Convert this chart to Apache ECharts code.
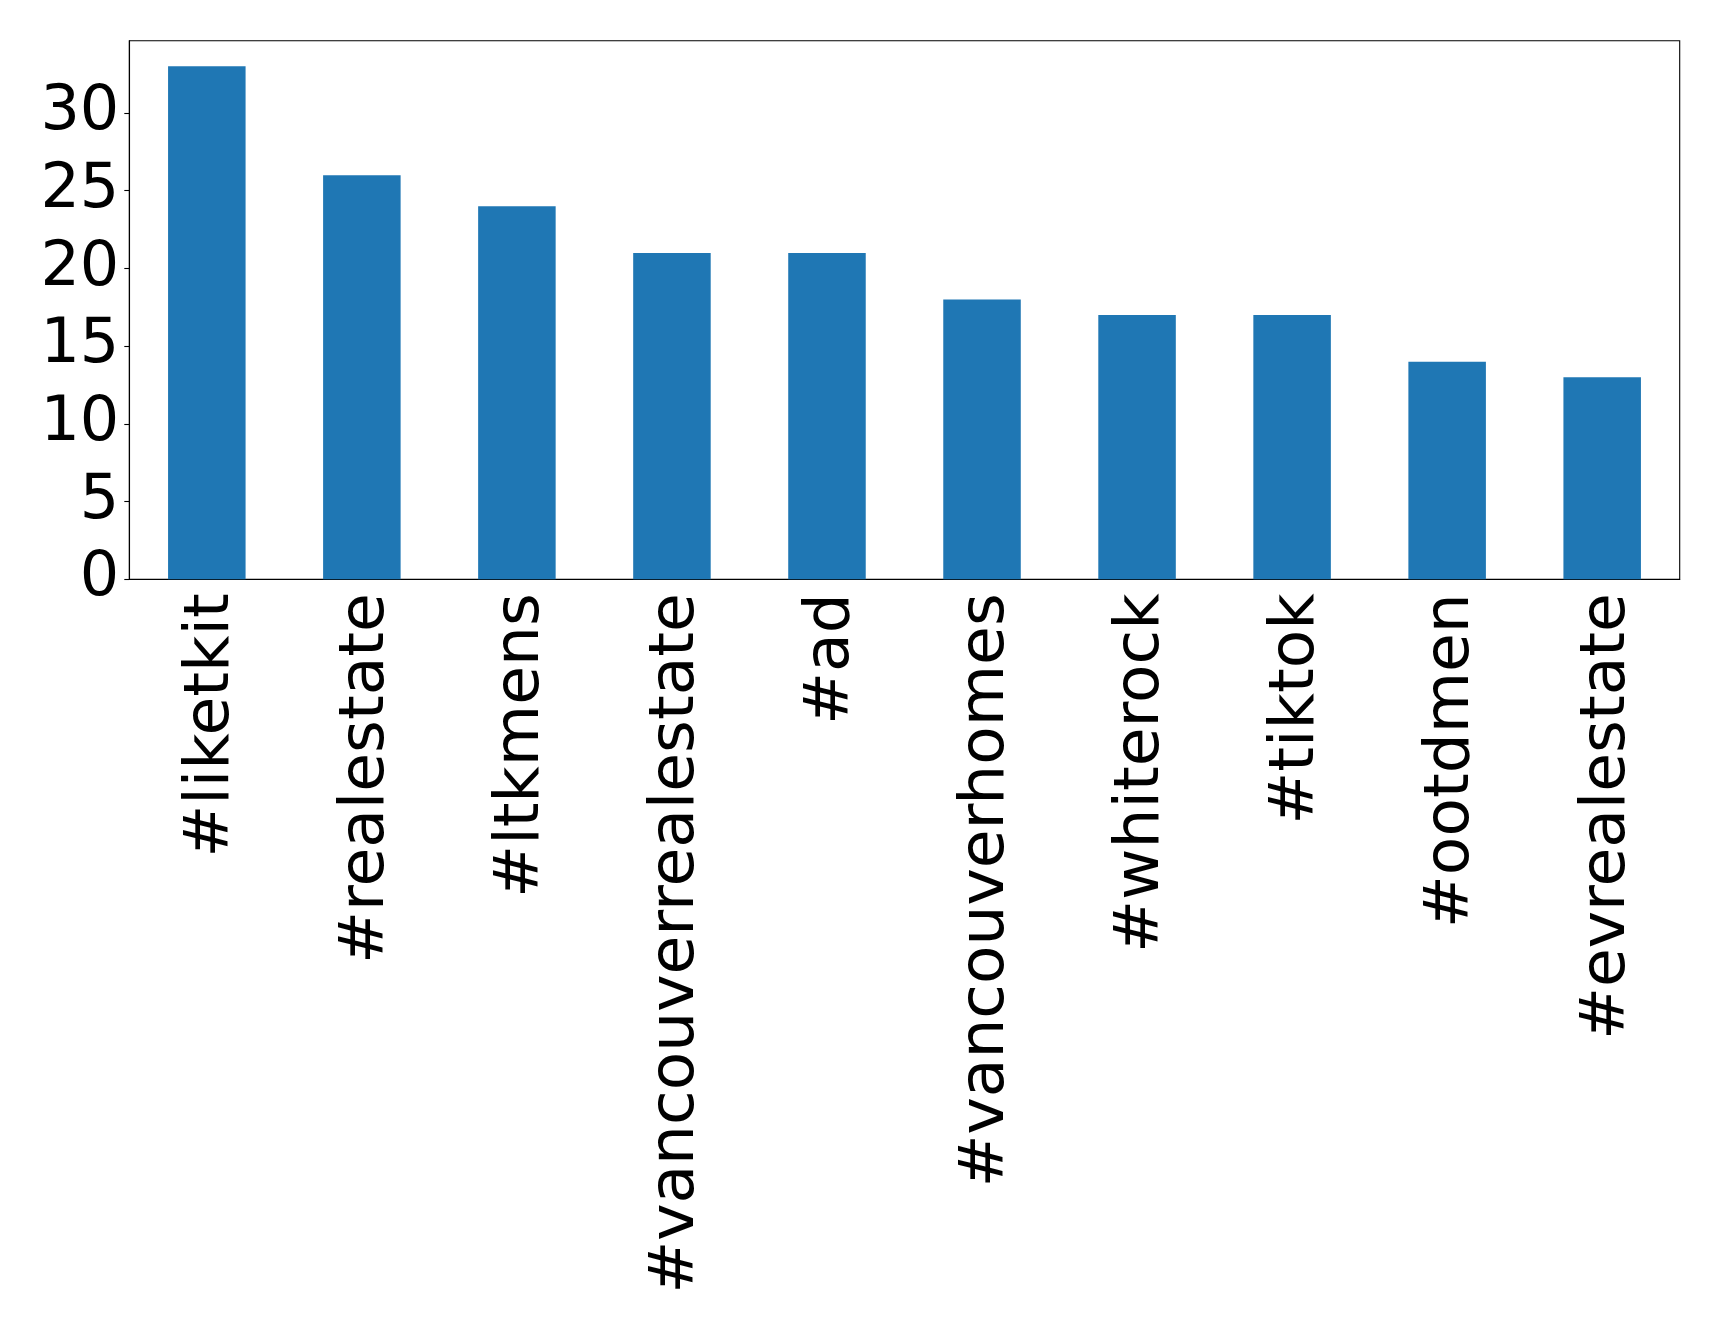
<!DOCTYPE html>
<html><head><meta charset="utf-8">
<script src="https://cdn.jsdelivr.net/npm/echarts@6/dist/echarts.min.js"></script>
<style>html,body{margin:0;padding:0;background:#fff}#c{width:1719px;height:1323px}</style>
</head><body><div id="c"></div>
<script>
const categories = ['#liketkit','#realestate','#ltkmens','#vancouverrealestate','#ad','#vancouverhomes','#whiterock','#tiktok','#ootdmen','#evrealestate'];
const counts = [33, 26, 24, 21, 21, 18, 17, 17, 14, 13];
const yTicks = [0, 5, 10, 15, 20, 25, 30];
const yMax = 34.65;

const chart = echarts.init(document.getElementById('c'), null, {renderer: 'canvas'});
const font = 'DejaVu Sans';
chart.setOption({
  animation: false,
  grid: {left: 129.3, right: 39.3, top: 40.7, bottom: 743.7, show: true, borderColor: '#000', borderWidth: 1.1, backgroundColor: 'transparent'},
  xAxis: {
    type: 'category', data: categories, boundaryGap: true,
    axisLine: {lineStyle: {color: '#000', width: 1.1}},
    axisTick: {alignWithLabel: true, length: 5, lineStyle: {color: '#000', width: 1.1}},
    axisLabel: {rotate: 90, color: '#000', fontFamily: font, fontSize: 63, margin: 14, interval: 0, verticalAlign: 'top', lineHeight: 10}
  },
  yAxis: {
    type: 'value', min: 0, max: yMax,
    splitLine: {show: false},
    axisLine: {show: true, lineStyle: {color: '#000', width: 1.1}},
    axisTick: {show: true, length: 5, customValues: yTicks, lineStyle: {color: '#000', width: 1.1}},
    axisLabel: {color: '#000', fontFamily: font, fontSize: 62, margin: 10, customValues: yTicks}
  },
  series: [{type: 'bar', data: counts, barWidth: '50%', itemStyle: {color: '#1f77b4'}}]
});
</script></body></html>
